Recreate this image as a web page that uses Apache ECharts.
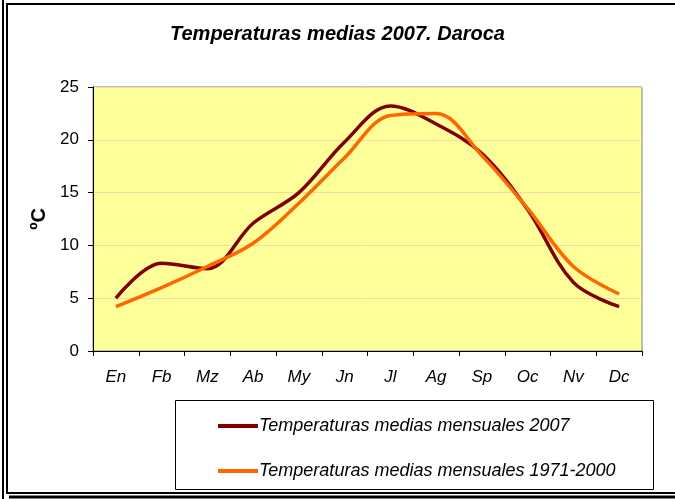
<!DOCTYPE html>
<html>
<head>
<meta charset="utf-8">
<script src="https://cdn.jsdelivr.net/npm/echarts@6/dist/echarts.min.js"></script>
<style>
  html, body { margin: 0; padding: 0; background: #fff; }
  #chart { width: 675px; height: 499px; }
</style>
</head>
<body>
<div id="chart"></div>
<script>
// meses y temperaturas medias (ºC)
var meses = ['En', 'Fb', 'Mz', 'Ab', 'My', 'Jn', 'Jl', 'Ag', 'Sp', 'Oc', 'Nv', 'Dc'];
var temp2007 = [5.0, 8.3, 7.8, 12.1, 15.0, 19.8, 23.2, 21.5, 18.7, 13.4, 6.5, 4.2];
var temp7100 = [4.2, 6.0, 8.0, 10.2, 14.0, 18.3, 22.3, 22.5, 18.5, 13.5, 8.0, 5.4];
var yTicks = [0, 5, 10, 15, 20, 25];

var chart = echarts.init(document.getElementById('chart'));

var font = 'Liberation Sans, Arial, sans-serif';

var option = {
  animation: false,
  backgroundColor: '#fff',
  title: {
    text: 'Temperaturas medias 2007. Daroca',
    left: 'center',
    top: 19,
    textStyle: { fontFamily: font, fontSize: 20, fontWeight: 'bold', fontStyle: 'italic', color: '#000' }
  },
  grid: {
    left: 93, right: 33, top: 87, bottom: 148,
    show: true,
    backgroundColor: '#FFFF99',
    borderColor: '#808080',
    borderWidth: 1
  },
  legend: {
    orient: 'vertical',
    left: 213,
    top: 412,
    itemWidth: 40,
    itemHeight: 4,
    itemGap: 27,
    icon: 'rect',
    textStyle: { fontFamily: font, fontSize: 18, fontStyle: 'italic', color: '#000', padding: [0, 0, 0, -4] },
    data: ['Temperaturas medias mensuales 2007', 'Temperaturas medias mensuales 1971-2000']
  },
  xAxis: {
    type: 'category',
    data: meses,
    boundaryGap: true,
    axisLine: { lineStyle: { color: '#000', width: 1 } },
    axisTick: { show: true, length: 5, lineStyle: { color: '#000' } },
    axisLabel: { margin: 18, fontFamily: font, fontSize: 17, fontStyle: 'italic', color: '#000' },
    splitLine: { show: false }
  },
  yAxis: {
    type: 'value',
    min: yTicks[0],
    max: yTicks[yTicks.length - 1],
    interval: 5,
    name: 'ºC',
    nameLocation: 'middle',
    nameRotate: 90,
    nameGap: 37,
    nameTextStyle: { fontFamily: font, fontSize: 20, fontWeight: 'bold', color: '#000' },
    axisLine: { show: true, lineStyle: { color: '#000', width: 1 } },
    axisTick: { show: true, length: 5, lineStyle: { color: '#000' } },
    axisLabel: { margin: 14, fontFamily: font, fontSize: 17, color: '#000' },
    splitLine: { show: true, lineStyle: { color: '#F8D8A8', width: 1 } }
  },
  series: [
    {
      name: 'Temperaturas medias mensuales 2007',
      type: 'line',
      data: temp2007,
      smooth: 0.35,
      showSymbol: false,
      color: '#800000',
      lineStyle: { width: 3.5, color: '#800000' }
    },
    {
      name: 'Temperaturas medias mensuales 1971-2000',
      type: 'line',
      data: temp7100,
      smooth: 0.35,
      showSymbol: false,
      color: '#FF6600',
      lineStyle: { width: 3.5, color: '#FF6600' }
    }
  ],
  graphic: [
    { type: 'line', shape: { x1: 3, y1: 0, x2: 3, y2: 499 }, style: { stroke: '#000', lineWidth: 2 } },
    { type: 'rect', shape: { x: 7, y: 4, width: 680, height: 489 }, style: { fill: 'none', stroke: '#000', lineWidth: 2 } },
    { type: 'line', shape: { x1: 9, y1: 497, x2: 675, y2: 497 }, style: { stroke: '#000', lineWidth: 3 } },
    { type: 'rect', shape: { x: 175.5, y: 400.5, width: 478, height: 89 }, style: { fill: 'none', stroke: '#000', lineWidth: 1 } }
  ]
};

chart.setOption(option);
</script>
</body>
</html>
